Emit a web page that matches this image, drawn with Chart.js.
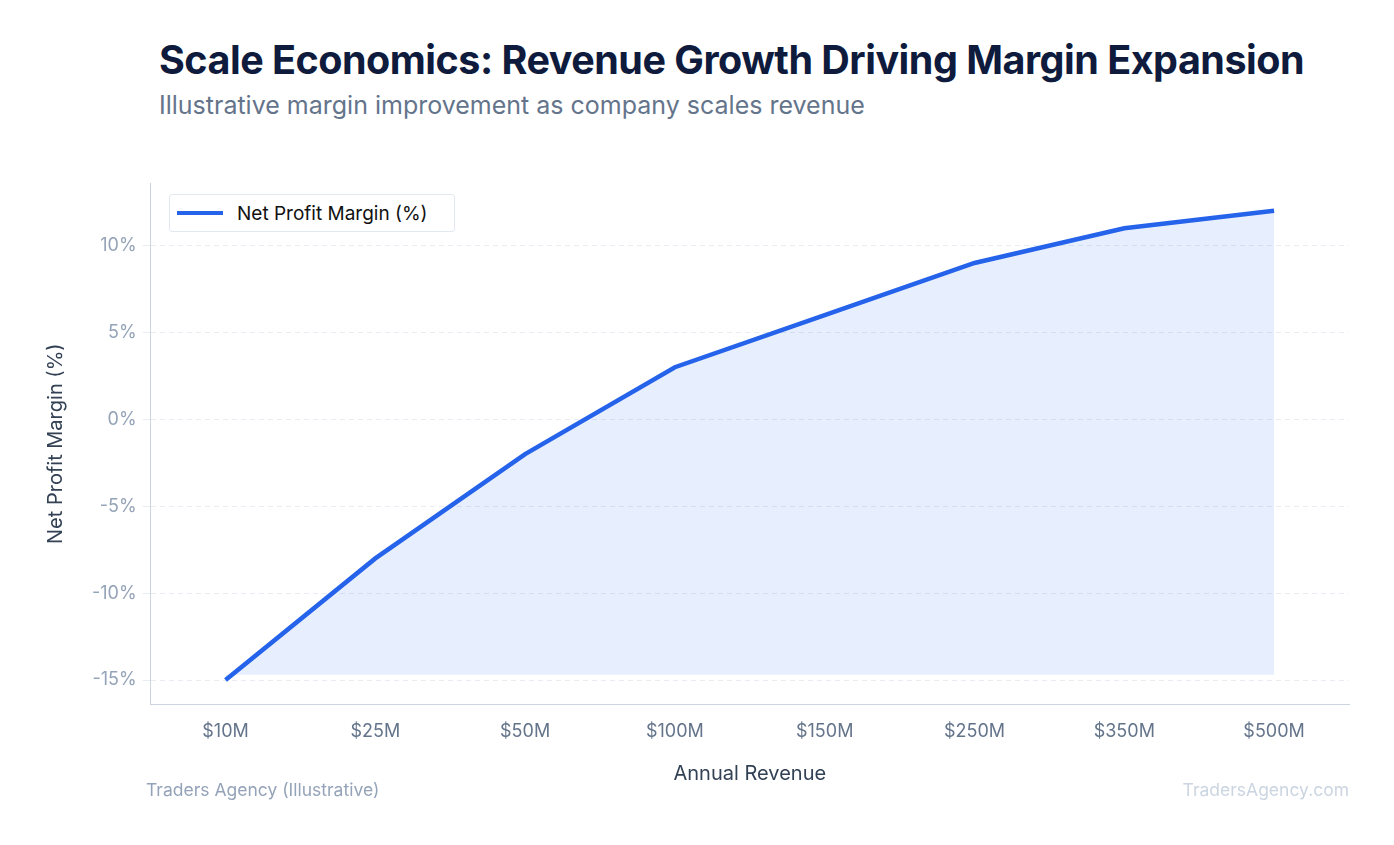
<!DOCTYPE html>
<html><head><meta charset="utf-8">
<script src="https://cdn.jsdelivr.net/npm/chart.js@4"></script>
<style>
body{margin:0;width:1394px;height:845px;background:#fff;font-family:Inter,sans-serif;position:relative;overflow:hidden}
#t{position:absolute;left:159px;top:36px;font-size:39.5px;font-weight:700;color:#0f1b3d;letter-spacing:-0.5px}
#s{position:absolute;left:159px;top:90px;font-size:25px;color:#64748b}
#f1{position:absolute;left:146px;top:779px;font-size:17.5px;color:#94a3b8}
#f2{position:absolute;right:45px;top:779px;font-size:17.5px;color:#cbd5e1}
#lg{position:absolute;left:169px;top:194px;width:284px;height:36px;border:1px solid #e2e8f0;border-radius:3px;background:#fff;font-size:19px;color:#111;display:flex;align-items:center}
#lg span.b{display:inline-block;width:46px;height:4px;background:#2563eb;margin:0 14px 0 7px}
</style></head><body>
<div id="t">Scale Economics: Revenue Growth Driving Margin Expansion</div>
<div id="s">Illustrative margin improvement as company scales revenue</div>
<div style="position:absolute;left:0;top:140px;width:1394px;height:680px"><canvas id="c"></canvas></div>
<div id="lg"><span class="b"></span>Net Profit Margin (%)</div>
<div id="f1">Traders Agency (Illustrative)</div>
<div id="f2">TradersAgency.com</div>
<script>
const categories=["$10M","$25M","$50M","$100M","$150M","$250M","$350M","$500M"];
const margins=[-15,-8,-2,3,6,9,11,12];
const yTicks=[-15,-10,-5,0,5,10];
new Chart(document.getElementById('c'),{type:'line',
data:{labels:categories,datasets:[{label:'Net Profit Margin (%)',data:margins,borderColor:'#2563eb',borderWidth:4.5,
backgroundColor:'rgba(37,99,235,0.11)',fill:{value:-14.7},pointRadius:0,tension:0}]},
options:{responsive:true,maintainAspectRatio:false,animation:false,
layout:{padding:{left:40,right:45,top:43,bottom:30}},
plugins:{legend:{display:false},tooltip:{enabled:false}},
scales:{
x:{offset:true,grid:{display:false},border:{color:'#cbd5e1'},ticks:{color:'#64748b',font:{family:'Inter',size:18},padding:8},
title:{display:true,text:'Annual Revenue',color:'#334155',font:{family:'Inter',size:20},padding:{top:12}}},
y:{min:-16.4,max:13.6,afterBuildTicks:a=>{a.ticks=yTicks.map(v=>({value:v}))},
grid:{color:'#e8edf3',drawTicks:true,tickLength:8},border:{color:'#cbd5e1',dash:[5,4]},
ticks:{color:'#94a3b8',font:{family:'Inter',size:18},callback:v=>v+'%',padding:6},
title:{display:true,text:'Net Profit Margin (%)',color:'#334155',font:{family:'Inter',size:20},padding:{bottom:18}}}}}});
</script></body></html>
